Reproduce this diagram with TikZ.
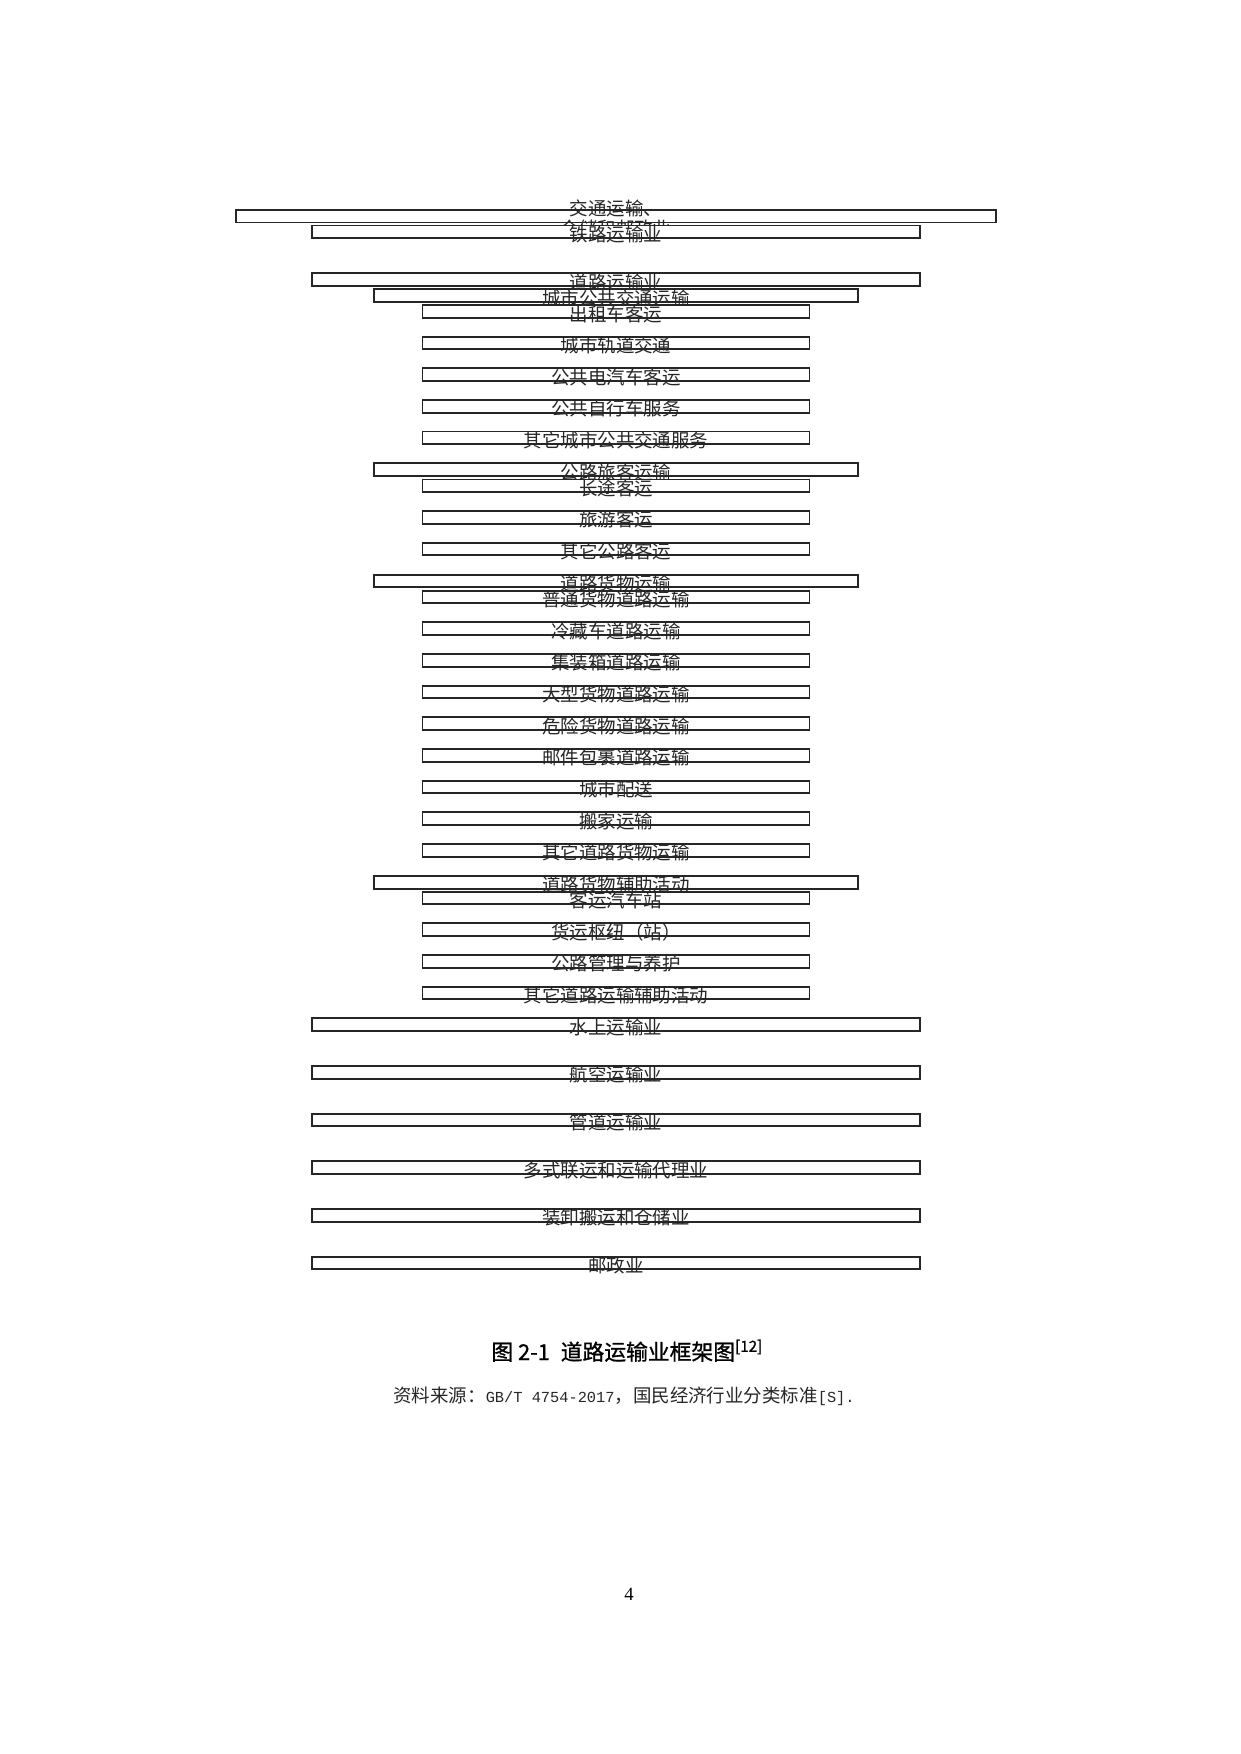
\documentclass[tikz,border=0pt]{standalone}
\usepackage{fontspec}
\usepackage{tikz}
\newfontfamily\cjk{Noto Sans CJK SC}
\newfontfamily\cjkhei{Noto Sans CJK SC}[FakeBold=1]
\newfontfamily\cjkmono{Liberation Mono}[Scale=0.83]
\newfontfamily\pagefont{Liberation Serif}

\tikzset{
	box/.style={rectangle, draw=black!85, line width=0.9pt, fill=white, inner sep=0pt, minimum height=2.15mm},
	lvla/.style={box, minimum width=128.7mm},
	lvlb/.style={box, minimum width=102.95mm},
	lvlc/.style={box, minimum width=81.96mm},
	lvld/.style={box, minimum width=65.53mm},
	txt/.style={font=\cjk\fontsize{8.9pt}{9.6pt}\selectfont, text=black!85, inner sep=0pt, yshift=-0.42mm}
}

\begin{document}
\begin{tikzpicture}[x=0.16933mm, y=-0.16933mm]
	\useasboundingbox (0,0) rectangle (1240,1754);
	% top level
	\node [lvla] (jt) at (616,216.2) {};
	\node [txt, align=center] (jt-t) at (jt) {交通运输、\\仓储和邮政业};
	\node [lvlb] (tl) at (616,231.8) {};
	\node [txt] (tl-t) at (tl) {铁路运输业};
	\node [lvlb] (dl) at (616,279.7) {};
	\node [txt] (dl-t) at (dl) {道路运输业};
	% urban public transport
	\node [lvlc] (cs) at (616,295.7) {};
	\node [txt] (cs-t) at (cs) {城市公共交通运输};
	\node [lvld] (czc) at (616,311.5) {};
	\node [txt] (czc-t) at (czc) {出租车客运};
	\node [lvld] (gd) at (616,343) {};
	\node [txt] (gd-t) at (gd) {城市轨道交通};
	\node [lvld] (dqc) at (616,374.7) {};
	\node [txt] (dqc-t) at (dqc) {公共电汽车客运};
	\node [lvld] (zxc) at (616,406.3) {};
	\node [txt] (zxc-t) at (zxc) {公共自行车服务};
	\node [lvld] (qtcs) at (616,437.9) {};
	\node [txt] (qtcs-t) at (qtcs) {其它城市公共交通服务};
	% road passengers
	\node [lvlc] (lk) at (616,469.7) {};
	\node [txt] (lk-t) at (lk) {公路旅客运输};
	\node [lvld] (ct) at (616,485.8) {};
	\node [txt] (ct-t) at (ct) {长途客运};
	\node [lvld] (ly) at (616,517.3) {};
	\node [txt] (ly-t) at (ly) {旅游客运};
	\node [lvld] (qtgl) at (616,549) {};
	\node [txt] (qtgl-t) at (qtgl) {其它公路客运};
	% road freight
	\node [lvlc] (hw) at (616,581) {};
	\node [txt] (hw-t) at (hw) {道路货物运输};
	\node [lvld] (pt) at (616,597) {};
	\node [txt] (pt-t) at (pt) {普通货物道路运输};
	\node [lvld] (lc) at (616,628.7) {};
	\node [txt] (lc-t) at (lc) {冷藏车道路运输};
	\node [lvld] (jzx) at (616,660.3) {};
	\node [txt] (jzx-t) at (jzx) {集装箱道路运输};
	\node [lvld] (dx) at (616,692) {};
	\node [txt] (dx-t) at (dx) {大型货物道路运输};
	\node [lvld] (wx) at (616,723.7) {};
	\node [txt] (wx-t) at (wx) {危险货物道路运输};
	\node [lvld] (yj) at (616,755.3) {};
	\node [txt] (yj-t) at (yj) {邮件包裹道路运输};
	\node [lvld] (ps) at (616,787) {};
	\node [txt] (ps-t) at (ps) {城市配送};
	\node [lvld] (bj) at (616,818.7) {};
	\node [txt] (bj-t) at (bj) {搬家运输};
	\node [lvld] (qthw) at (616,850.3) {};
	\node [txt] (qthw-t) at (qthw) {其它道路货物运输};
	% auxiliary
	\node [lvlc] (fz) at (616,882.3) {};
	\node [txt] (fz-t) at (fz) {道路货物辅助活动};
	\node [lvld] (kz) at (616,898) {};
	\node [txt] (kz-t) at (kz) {客运汽车站};
	\node [lvld] (sn) at (616,929.7) {};
	\node [txt] (sn-t) at (sn) {货运枢纽（站）};
	\node [lvld] (yh) at (616,961.3) {};
	\node [txt] (yh-t) at (yh) {公路管理与养护};
	\node [lvld] (qtfz) at (616,993) {};
	\node [txt] (qtfz-t) at (qtfz) {其它道路运输辅助活动};
	% other branches
	\node [lvlb] (ss) at (616,1024.7) {};
	\node [txt] (ss-t) at (ss) {水上运输业};
	\node [lvlb] (hk) at (616,1072.3) {};
	\node [txt] (hk-t) at (hk) {航空运输业};
	\node [lvlb] (gdy) at (616,1120) {};
	\node [txt] (gdy-t) at (gdy) {管道运输业};
	\node [lvlb] (dsl) at (616,1167.7) {};
	\node [txt] (dsl-t) at (dsl) {多式联运和运输代理业};
	\node [lvlb] (zx) at (616,1215.3) {};
	\node [txt] (zx-t) at (zx) {装卸搬运和仓储业};
	\node [lvlb] (yz) at (616,1263) {};
	\node [txt] (yz-t) at (yz) {邮政业};
	% caption
	\node [font=\cjkhei\fontsize{10.5pt}{12pt}\selectfont, anchor=base west, inner sep=0pt] (cap) at (491,1360) {图 2-1\hspace{0.5em}道路运输业框架图\textsuperscript{[12]}};
	\node [font=\cjk\fontsize{8.9pt}{10pt}\selectfont, text=black!85, anchor=base west, inner sep=0pt] (src) at (393,1402) {资料来源：{\cjkmono GB/T 4754-2017}，国民经济行业分类标准{\cjkmono [S].}};
	\node [font=\pagefont\fontsize{9pt}{10pt}\selectfont, inner sep=0pt] (pg) at (629,1594.5) {4};
\end{tikzpicture}
\end{document}
